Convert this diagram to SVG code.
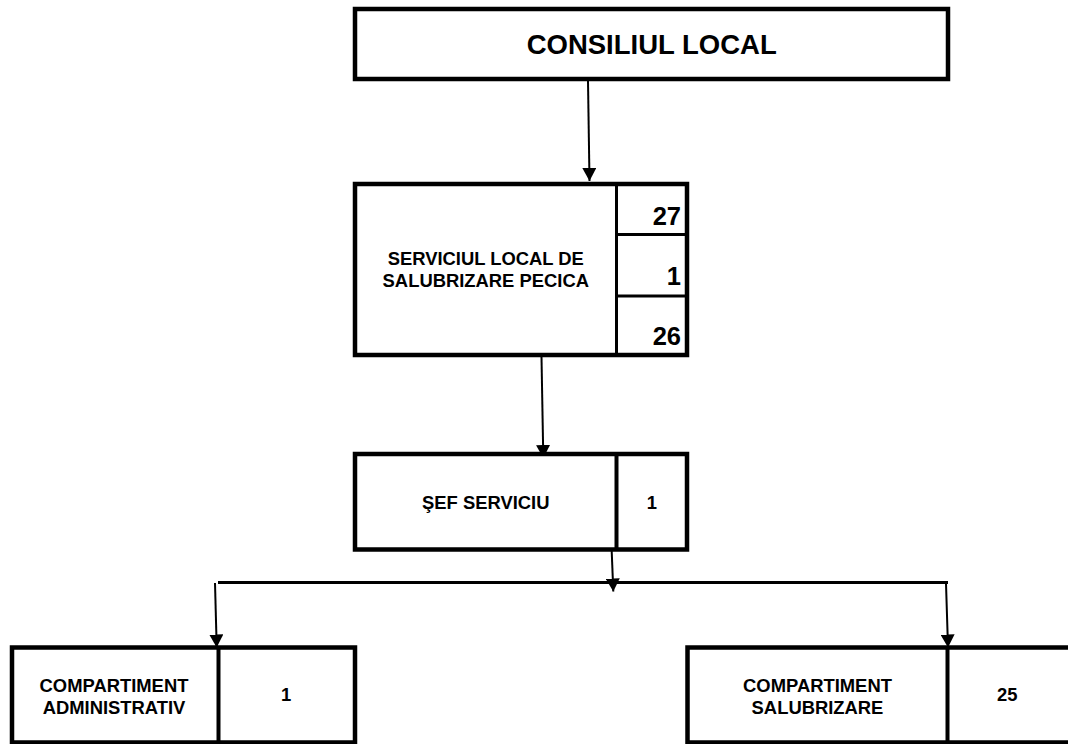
<svg xmlns="http://www.w3.org/2000/svg" width="1068" height="744" viewBox="0 0 1068 744">
  <style>
    .box { fill: #ffffff; stroke: #000000; stroke-width: 4.5; }
    .div { stroke: #000000; stroke-width: 4; fill: none; }
    .thin { stroke: #000000; stroke-width: 3; fill: none; }
    .conn { stroke: #000000; stroke-width: 2; fill: none; }
    .bus { stroke: #000000; stroke-width: 3; fill: none; }
    text { font-family: "Liberation Sans", Arial, sans-serif; font-weight: bold; fill: #000000; }
    .t27 { font-size: 27.5px; }
    .t18 { font-size: 18.4px; }
    .tnum { font-size: 25.5px; }
  </style>
  <defs>
    <marker id="arr" markerUnits="userSpaceOnUse" markerWidth="14" markerHeight="14" refX="13" refY="7" orient="auto">
      <path d="M0,0 L13,7 L0,14 Z" fill="#000000"/>
    </marker>
  </defs>
  <rect width="1068" height="744" fill="#ffffff"/>

  <g id="connectors">
    <line class="conn" x1="588" y1="81" x2="589.5" y2="181" marker-end="url(#arr)"/>
    <line class="conn" x1="541.5" y1="357" x2="543.3" y2="458" marker-end="url(#arr)"/>
    <line class="conn" x1="611.7" y1="551" x2="613.3" y2="591.5" marker-end="url(#arr)"/>
    <line class="bus" x1="218" y1="582.5" x2="948" y2="582.5"/>
    <line class="conn" x1="215" y1="583" x2="216.7" y2="647.5" marker-end="url(#arr)"/>
    <line class="conn" x1="946" y1="583" x2="948" y2="647.5" marker-end="url(#arr)"/>
  </g>

  <g id="consiliul-local">
    <rect class="box" x="355" y="9" width="593" height="70"/>
    <text class="t27" x="651.7" y="54" text-anchor="middle">CONSILIUL LOCAL</text>
  </g>

  <g id="serviciul-local">
    <rect class="box" x="355" y="184" width="332" height="171"/>
    <line class="thin" x1="616.5" y1="184" x2="616.5" y2="355"/>
    <line class="thin" x1="616.5" y1="234.5" x2="687" y2="234.5"/>
    <line class="thin" x1="616.5" y1="296" x2="687" y2="296"/>
    <text class="t18" x="485.8" y="265" text-anchor="middle">SERVICIUL LOCAL DE</text>
    <text class="t18" x="485.8" y="287" text-anchor="middle">SALUBRIZARE PECICA</text>
    <text class="tnum" x="681" y="225" text-anchor="end">27</text>
    <text class="tnum" x="681" y="285" text-anchor="end">1</text>
    <text class="tnum" x="681" y="345" text-anchor="end">26</text>
  </g>

  <g id="sef-serviciu">
    <rect class="box" x="355" y="454" width="332" height="95.5"/>
    <line class="div" x1="616.5" y1="454" x2="616.5" y2="549.5"/>
    <text class="t18" x="485.75" y="508.5" text-anchor="middle">ŞEF SERVICIU</text>
    <text class="t18" x="651.75" y="508.5" text-anchor="middle">1</text>
  </g>

  <g id="compartiment-administrativ">
    <rect class="box" x="12" y="647.5" width="343" height="95"/>
    <line class="div" x1="218.5" y1="647.5" x2="218.5" y2="742.5"/>
    <text class="t18" x="114" y="691.5" text-anchor="middle">COMPARTIMENT</text>
    <text class="t18" x="114" y="713.5" text-anchor="middle">ADMINISTRATIV</text>
    <text class="t18" x="286" y="701" text-anchor="middle">1</text>
  </g>

  <g id="compartiment-salubrizare">
    <rect class="box" x="687.5" y="647.5" width="400" height="95"/>
    <line class="div" x1="947.5" y1="647.5" x2="947.5" y2="742.5"/>
    <text class="t18" x="817.5" y="691.5" text-anchor="middle">COMPARTIMENT</text>
    <text class="t18" x="817.5" y="713.5" text-anchor="middle">SALUBRIZARE</text>
    <text class="t18" x="1007.3" y="701" text-anchor="middle">25</text>
  </g>
</svg>
